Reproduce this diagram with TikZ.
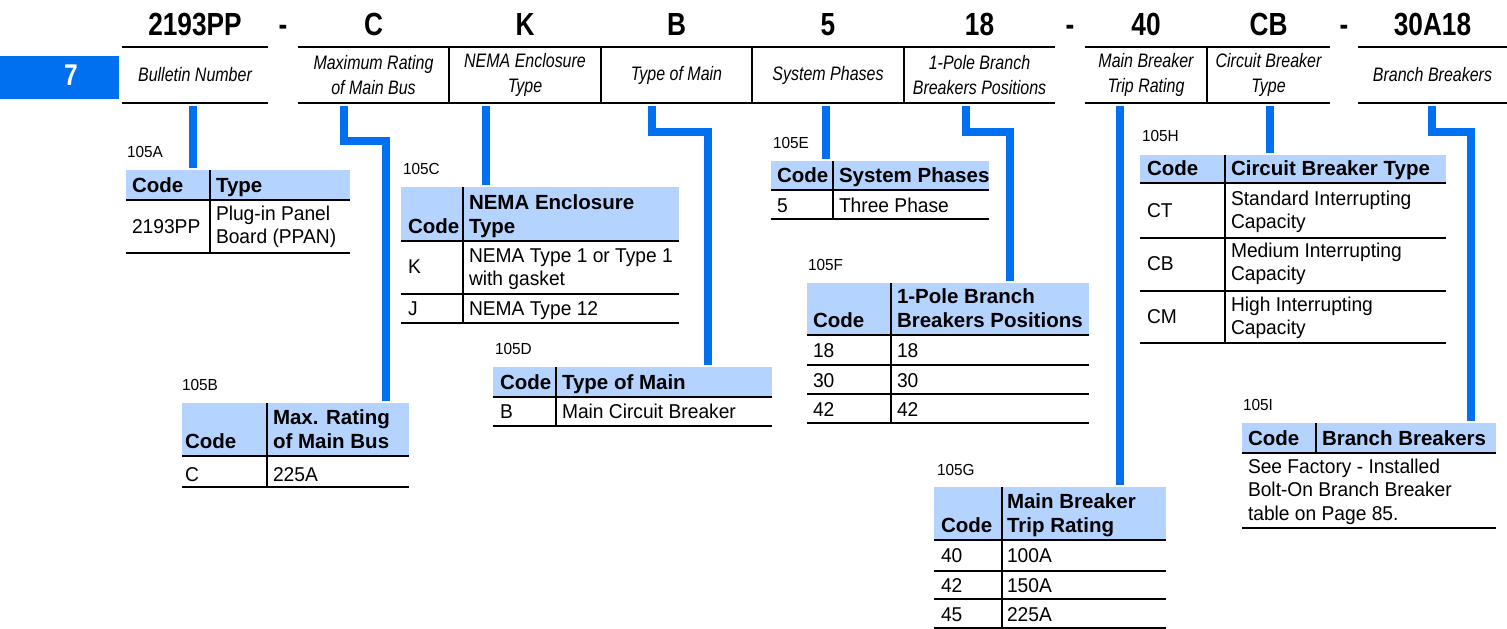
\documentclass[tikz,border=0pt]{standalone}
\usepackage{fontspec}
\setmainfont{Liberation Sans}
\newfontfamily\cndfont{Liberation Sans}[FakeStretch=0.82]
\newfontfamily\nrwfont{Liberation Sans}[FakeStretch=0.96]
\usepackage{tikz}
\usetikzlibrary{positioning}
\definecolor{tabblue}{RGB}{0,112,240}
\definecolor{hdblue}{RGB}{180,212,255}

\begin{document}
\begin{tikzpicture}[x=1pt, y=-1pt,
  every node/.style={inner sep=0pt, outer sep=0pt},
  code/.style={anchor=base, font=\cndfont\bfseries\fontsize{32}{32}\selectfont},
  cell/.style={minimum height=56pt, align=center, font=\cndfont\itshape\fontsize{19.5}{25}\selectfont},
  rule/.style={line width=1.8pt},
  conn/.style={draw=tabblue, line width=7.5pt, shorten <=3pt, shorten >=2pt},
  hd/.style={fill=hdblue, anchor=north west},
  hdtxt/.style={anchor=base west, align=left, font=\bfseries\fontsize{20.5}{24}\selectfont},
  txt/.style={anchor=base west, align=left, font=\nrwfont\fontsize{20}{22.5}\selectfont},
  tno/.style={anchor=base west, font=\nrwfont\fontsize{16}{16}\selectfont}
]
\useasboundingbox (0,0) rectangle (1507,629);

% side tab
\node[fill=tabblue, minimum width=119pt, minimum height=43pt, anchor=north west] (tab) at (0,56) {};
\node[code, text=white, font=\cndfont\bfseries\fontsize{30}{30}\selectfont] (tabno) at (71,85) {7};

% catalogue string
\node[cell, minimum width=146pt] (hbul) at (195,75) {Bulletin Number};
\node[cell, minimum width=151pt] (hmax) at (373.5,75) {Maximum Rating\\of Main Bus};
\node[cell, minimum width=152pt, right=0pt of hmax] (hnem) {NEMA Enclosure\\Type};
\node[cell, minimum width=151pt, right=0pt of hnem] (htyp) {Type of Main};
\node[cell, minimum width=152pt, right=0pt of htyp] (hsys) {System Phases};
\node[cell, minimum width=151pt, right=0pt of hsys] (hpol) {1-Pole Branch\\Breakers Positions};
\node[cell, minimum width=122pt] (htrp) at (1146,75) {Main Breaker\\Trip Rating};
\node[cell, minimum width=123pt, right=0pt of htrp] (hcbt) {Circuit Breaker\\Type};
\node[cell, minimum width=149pt] (hbrn) at (1432.5,75) {Branch Breakers};

\node[code, above=12pt of hbul.north, anchor=base] (cbul) {2193PP};
\node[code, above=12pt of hmax.north, anchor=base] (cmax) {C};
\node[code, above=12pt of hnem.north, anchor=base] (cnem) {K};
\node[code, above=12pt of htyp.north, anchor=base] (ctyp) {B};
\node[code, above=12pt of hsys.north, anchor=base] (csys) {5};
\node[code, above=12pt of hpol.north, anchor=base] (cpol) {18};
\node[code, above=12pt of htrp.north, anchor=base] (ctrp) {40};
\node[code, above=12pt of hcbt.north, anchor=base] (ccbt) {CB};
\node[code, above=12pt of hbrn.north, anchor=base] (cbrn) {30A18};
\node[code] (dsh1) at (283,35) {-};
\node[code] (dsh2) at (1070,35) {-};
\node[code] (dsh3) at (1344,35) {-};

\draw[rule] (hbul.north west) -- (hbul.north east) (hbul.south west) -- (hbul.south east);
\draw[rule] (hmax.north west) -- (hpol.north east) (hmax.south west) -- (hpol.south east);
\draw[rule] (htrp.north west) -- (hcbt.north east) (htrp.south west) -- (hcbt.south east);
\draw[rule] (hbrn.north west) -- (hbrn.north east) (hbrn.south west) -- (hbrn.south east);
\draw[rule] (hnem.north west) -- (hnem.south west) (htyp.north west) -- (htyp.south west)
  (hsys.north west) -- (hsys.south west) (hpol.north west) -- (hpol.south west)
  (hcbt.north west) -- (hcbt.south west);

% 105A
\node[tno] (nA) at (127,157) {105A};
\node[hd, minimum width=224pt, minimum height=30pt] (tA) at (126,170) {};
\node[hdtxt] (cA) at (132,192) {Code};
\node[hdtxt] (kA) at (216,192) {Type};
\node[txt] (vA) at (132,233) {2193PP};
\node[txt] (dA) at (216,243) {Plug-in Panel\\Board (PPAN)};
\draw[rule] (126,200) -- (350,200) (126,253) -- (350,253) (210,170) -- (210,253);

% 105B
\node[tno] (nB) at (182,390) {105B};
\node[hd, minimum width=227pt, minimum height=53pt] (tB) at (182,403) {};
\node[hdtxt] (cB) at (185,448) {Code};
\node[hdtxt] (kB) at (273,448) {Max. Rating\\of Main Bus};
\node[txt] (vB) at (185,481) {C};
\node[txt] (dB) at (273,481) {225A};
\draw[rule] (182,456) -- (409,456) (182,487) -- (409,487) (267,403) -- (267,487);

% 105C
\node[tno] (nC) at (403,174) {105C};
\node[hd, minimum width=278pt, minimum height=54pt] (tC) at (401,187) {};
\node[hdtxt] (cC) at (408,233) {Code};
\node[hdtxt] (kC) at (469,233) {NEMA Enclosure\\Type};
\node[txt] (vC1) at (408,273) {K};
\node[txt] (dC1) at (469,285) {NEMA Type 1 or Type 1\\with gasket};
\node[txt] (vC2) at (408,315) {J};
\node[txt] (dC2) at (469,315) {NEMA Type 12};
\draw[rule] (401,241) -- (679,241) (401,294) -- (679,294) (401,323) -- (679,323) (463,187) -- (463,323);

% 105D
\node[tno] (nD) at (495,354) {105D};
\node[hd, minimum width=279pt, minimum height=30pt] (tD) at (493,367) {};
\node[hdtxt] (cD) at (500,389) {Code};
\node[hdtxt] (kD) at (562,389) {Type of Main};
\node[txt] (vD) at (500,418) {B};
\node[txt] (dD) at (562,418) {Main Circuit Breaker};
\draw[rule] (493,397) -- (772,397) (493,426) -- (772,426) (556,367) -- (556,426);

% 105E
\node[tno] (nE) at (773,148) {105E};
\node[hd, minimum width=218pt, minimum height=29pt] (tE) at (771,161) {};
\node[hdtxt] (cE) at (777,182) {Code};
\node[hdtxt] (kE) at (839,182) {System Phases};
\node[txt] (vE) at (777,212) {5};
\node[txt] (dE) at (839,212) {Three Phase};
\draw[rule] (771,190) -- (989,190) (771,219) -- (989,219) (833,161) -- (833,219);

% 105F
\node[tno] (nF) at (808,270) {105F};
\node[hd, minimum width=282pt, minimum height=52pt] (tF) at (807,283) {};
\node[hdtxt] (cF) at (813,327) {Code};
\node[hdtxt] (kF) at (897,327) {1-Pole Branch\\Breakers Positions};
\node[txt] (vF1) at (813,357) {18};
\node[txt] (dF1) at (897,357) {18};
\node[txt] (vF2) at (813,387) {30};
\node[txt] (dF2) at (897,387) {30};
\node[txt] (vF3) at (813,416) {42};
\node[txt] (dF3) at (897,416) {42};
\draw[rule] (807,335) -- (1089,335) (807,365) -- (1089,365) (807,394) -- (1089,394)
  (807,423) -- (1089,423) (891,283) -- (891,423);

% 105G
\node[tno] (nG) at (937,475) {105G};
\node[hd, minimum width=232pt, minimum height=53pt] (tG) at (934,487) {};
\node[hdtxt] (cG) at (941,532) {Code};
\node[hdtxt] (kG) at (1007,532) {Main Breaker\\Trip Rating};
\node[txt] (vG1) at (941,562) {40};
\node[txt] (dG1) at (1007,562) {100A};
\node[txt] (vG2) at (941,592) {42};
\node[txt] (dG2) at (1007,592) {150A};
\node[txt] (vG3) at (941,621) {45};
\node[txt] (dG3) at (1007,621) {225A};
\draw[rule] (934,540) -- (1166,540) (934,571) -- (1166,571) (934,599) -- (1166,599)
  (934,628) -- (1166,628) (1002,487) -- (1002,628);

% 105H
\node[tno] (nH) at (1142,141) {105H};
\node[hd, minimum width=306pt, minimum height=28pt] (tH) at (1140,155) {};
\node[hdtxt] (cH) at (1147,175) {Code};
\node[hdtxt] (kH) at (1231,175) {Circuit Breaker Type};
\node[txt] (vH1) at (1147,217) {CT};
\node[txt] (dH1) at (1231,228) {Standard Interrupting\\Capacity};
\node[txt] (vH2) at (1147,270) {CB};
\node[txt] (dH2) at (1231,280) {Medium Interrupting\\Capacity};
\node[txt] (vH3) at (1147,323) {CM};
\node[txt] (dH3) at (1231,334) {High Interrupting\\Capacity};
\draw[rule] (1140,183) -- (1446,183) (1140,238) -- (1446,238) (1140,291) -- (1446,291)
  (1140,343) -- (1446,343) (1225,155) -- (1225,343);

% 105I
\node[tno] (nI) at (1243,410) {105I};
\node[hd, minimum width=254pt, minimum height=30pt] (tI) at (1242,423) {};
\node[hdtxt] (cI) at (1248,445) {Code};
\node[hdtxt] (kI) at (1322,445) {Branch Breakers};
\node[txt, font=\nrwfont\fontsize{20}{23.5}\selectfont] (dI) at (1248,520) {See Factory - Installed\\Bolt-On Branch Breaker\\table on Page 85.};
\draw[rule] (1242,453) -- (1496,453) (1242,528) -- (1496,528) (1316,423) -- (1316,453);

% leaders
\coordinate (sA) at ([xshift=-2pt]hbul.south);
\coordinate (sB) at ([xshift=-29.5pt]hmax.south);
\coordinate (sC) at ([xshift=-39pt]hnem.south);
\coordinate (sD) at ([xshift=-24.5pt]htyp.south);
\coordinate (sE) at ([xshift=-2pt]hsys.south);
\coordinate (sF) at ([xshift=-13.5pt]hpol.south);
\coordinate (sG) at ([xshift=-26pt]htrp.south);
\coordinate (sH) at ([xshift=1.5pt]hcbt.south);
\coordinate (sI) at ([xshift=-0.5pt]hbrn.south);
\draw[conn] (sA) -- (sA |- tA.north);
\draw[conn] (sB) -- ++(0,38) -| ([xshift=90.5pt]tB.north);
\draw[conn] (sC) -- (sC |- tC.north);
\draw[conn] (sD) -- ++(0,29) -| ([xshift=75.5pt]tD.north);
\draw[conn] (sE) -- (sE |- tE.north);
\draw[conn] (sF) -- ++(0,29) -| ([xshift=62pt]tF.north);
\draw[conn] (sG) -- (sG |- tG.north);
\draw[conn] (sH) -- (sH |- tH.north);
\draw[conn] (sI) -- ++(0,29) -| ([xshift=102pt]tI.north);
\end{tikzpicture}
\end{document}
